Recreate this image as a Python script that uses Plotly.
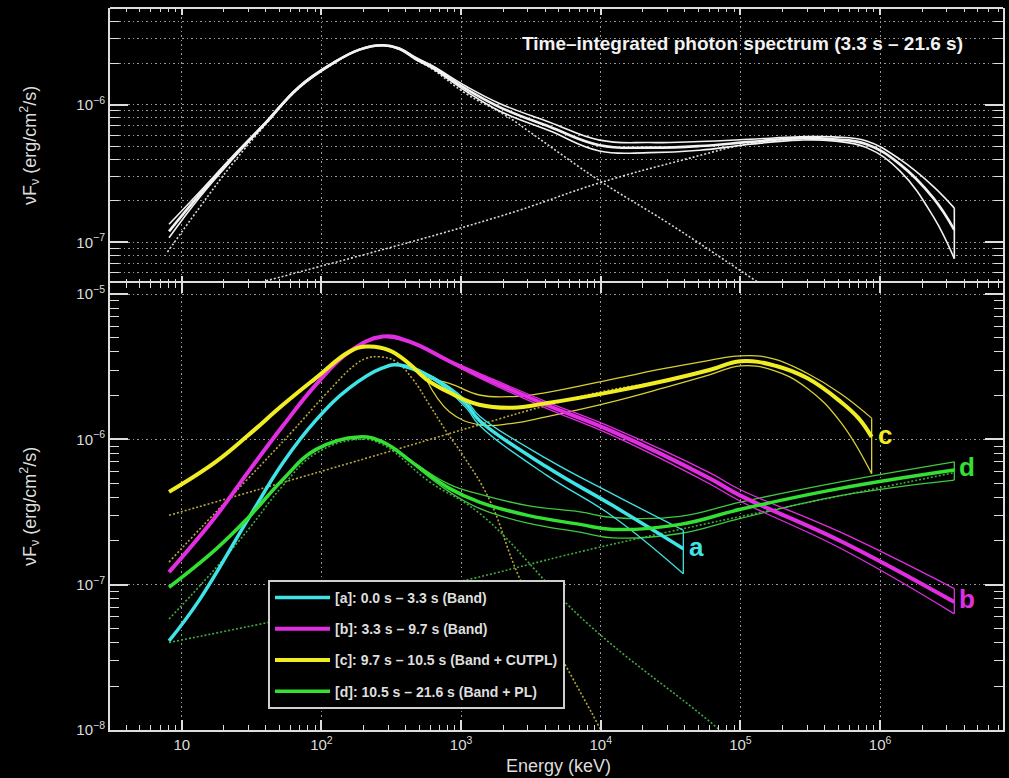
import plotly.graph_objects as go

# ---------------- data ----------------
# Top panel: time-integrated spectrum (3.3 s - 21.6 s)
top_E = [8.1, 13.3, 23, 40, 69, 120, 187, 274, 361, 475, 627, 1086, 1884, 4300, 9800,
         2.24e4, 5.1e4, 1.17e5, 2.67e5, 4.6e5, 8.0e5, 1.39e6, 2.4e6, 3.4e6]
top_mid = [1.2e-7, 2.2e-7, 4.1e-7, 7.4e-7, 1.34e-6, 1.99e-6, 2.51e-6, 2.7e-6, 2.55e-6, 2.16e-6,
           1.87e-6, 1.30e-6, 9.6e-7, 6.9e-7, 5.07e-7, 4.87e-7, 5.0e-7, 5.36e-7, 5.7e-7,
           5.6e-7, 5.15e-7, 3.68e-7, 2.1e-7, 1.23e-7]
top_up = [1.35e-7, 2.3e-7, 4.2e-7, 7.5e-7, 1.36e-6, 2.01e-6, 2.53e-6, 2.72e-6, 2.58e-6, 2.2e-6,
          1.91e-6, 1.36e-6, 1.02e-6, 7.45e-7, 5.52e-7, 5.3e-7, 5.4e-7, 5.6e-7, 5.83e-7,
          5.83e-7, 5.45e-7, 4.0e-7, 2.55e-7, 1.77e-7]
top_low = [1.08e-7, 2.1e-7, 4.0e-7, 7.3e-7, 1.32e-6, 1.97e-6, 2.49e-6, 2.68e-6, 2.52e-6, 2.12e-6,
           1.83e-6, 1.25e-6, 9.0e-7, 6.45e-7, 4.6e-7, 4.48e-7, 4.66e-7, 5.15e-7, 5.52e-7,
           5.45e-7, 4.87e-7, 3.29e-7, 1.54e-7, 7.6e-8]
top_band_E = [7.9, 13.3, 23, 40, 69, 120, 187, 274, 361, 475, 627, 1086, 2100, 3260, 9800,
              3.0e4, 1.27e5, 3.0e5]
top_band_V = [8.5e-8, 1.77e-7, 3.7e-7, 7.2e-7, 1.32e-6, 1.97e-6, 2.5e-6, 2.68e-6, 2.52e-6,
              2.12e-6, 1.8e-6, 1.2e-6, 8.3e-7, 6.1e-7, 2.8e-7, 1.39e-7, 5.3e-8, 3.0e-8]
top_pl_E = [20, 34, 1884, 9800, 4.0e4, 1.17e5, 2.5e5]
top_pl_V = [4.3e-8, 5.0e-8, 1.54e-7, 2.7e-7, 4.0e-7, 5.2e-7, 5.6e-7]

# [a] cyan, Band
a_E = [8.1, 13.3, 30, 53, 91, 158, 274, 361, 627, 1086, 1352, 4060, 1.22e4, 3.9e4]
a_mid = [4.1e-8, 7.8e-8, 2.85e-7, 6.9e-7, 1.35e-6, 2.25e-6, 3.1e-6, 3.25e-6, 2.64e-6, 1.75e-6,
         1.35e-6, 6.5e-7, 3.5e-7, 1.77e-7]
a_cE = [361, 627, 1086, 1352, 4060, 1.22e4, 3.9e4]
a_up = [3.3e-6, 2.7e-6, 1.85e-6, 1.45e-6, 7.4e-7, 4.2e-7, 2.37e-7]
a_low = [3.2e-6, 2.58e-6, 1.65e-6, 1.25e-6, 5.7e-7, 2.95e-7, 1.19e-7]

# [b] magenta, Band
b_E = [8.1, 17.5, 30, 53, 91, 158, 274, 427, 824, 1350, 4060, 1.22e4, 6.0e4, 1.0e5, 5.2e5, 3.4e6]
b_mid = [1.22e-7, 2.95e-7, 6.0e-7, 1.24e-6, 2.37e-6, 4.0e-6, 5.1e-6, 4.7e-6, 3.45e-6, 2.75e-6,
         1.73e-6, 1.13e-6, 5.4e-7, 4.1e-7, 2.0e-7, 7.6e-8]
b_cE = [274, 427, 824, 1350, 4060, 1.22e4, 6.0e4, 1.0e5, 5.2e5, 3.4e6]
b_up = [5.15e-6, 4.75e-6, 3.5e-6, 2.85e-6, 1.82e-6, 1.2e-6, 5.9e-7, 4.5e-7, 2.3e-7, 9.4e-8]
b_low = [5.05e-6, 4.65e-6, 3.4e-6, 2.65e-6, 1.64e-6, 1.06e-6, 4.95e-7, 3.75e-7, 1.78e-7, 6.3e-8]

# [c] yellow, Band + CUTPL
c_E = [8.1, 17.5, 30, 53, 91, 158, 208, 306, 427, 561, 824, 1350, 2340, 4060, 1.22e4, 3.0e4,
       6.0e4, 1.0e5, 1.8e5, 3.0e5, 5.2e5, 7.0e5, 8.7e5]
c_mid = [4.35e-7, 7.0e-7, 1.07e-6, 1.73e-6, 2.64e-6, 4.0e-6, 4.35e-6, 4.1e-6, 3.3e-6, 2.6e-6,
         2.1e-6, 1.73e-6, 1.65e-6, 1.77e-6, 2.13e-6, 2.55e-6, 3.0e-6, 3.45e-6, 3.2e-6, 2.64e-6,
         1.82e-6, 1.4e-6, 1.04e-6]
c_cE = [561, 824, 1350, 2340, 4060, 1.22e4, 3.0e4, 6.0e4, 1.0e5, 1.7e5, 3.0e5, 5.2e5, 8.7e5]
c_up = [2.64e-6, 2.43e-6, 2.02e-6, 1.97e-6, 2.1e-6, 2.6e-6, 3.1e-6, 3.5e-6, 3.76e-6, 3.6e-6,
        2.85e-6, 2.07e-6, 1.40e-6]
c_low = [2.6e-6, 1.55e-6, 1.26e-6, 1.29e-6, 1.43e-6, 1.82e-6, 2.3e-6, 2.78e-6, 3.2e-6, 3.0e-6,
         2.25e-6, 1.32e-6, 5.8e-7]
c_band_E = [8.1, 15, 30, 60, 110, 170, 208, 260, 342, 450, 593, 800, 1027, 1585, 2600, 5000,
            1.0e4, 1.5e4]
c_band_V = [1.43e-7, 2.7e-7, 5.4e-7, 1.1e-6, 2.1e-6, 3.2e-6, 3.6e-6, 3.7e-6, 3.43e-6, 2.6e-6,
            1.73e-6, 1.1e-6, 7.8e-7, 3.9e-7, 1.13e-7, 3.4e-8, 1.0e-8, 4.5e-9]
c_cpl_E = [8.1, 274, 1350, 4000, 1.2e4, 3.0e4]
c_cpl_V = [3.0e-7, 8.0e-7, 1.26e-6, 1.7e-6, 2.2e-6, 2.5e-6]

# [d] green, Band + PL
d_E = [8.1, 17.5, 30, 53, 91, 186, 274, 475, 824, 1352, 3000, 7100, 1.22e4, 3.7e4, 1.0e5,
       5.2e5, 3.4e6]
d_mid = [9.6e-8, 1.75e-7, 2.9e-7, 5.3e-7, 8.5e-7, 1.04e-6, 9.6e-7, 6.65e-7, 4.6e-7, 3.7e-7,
         3.0e-7, 2.6e-7, 2.4e-7, 2.6e-7, 3.3e-7, 4.6e-7, 6.15e-7]
d_cE = [475, 824, 1352, 3000, 7100, 1.22e4, 3.7e4, 1.0e5, 5.2e5, 3.4e6]
d_up = [6.8e-7, 4.9e-7, 4.2e-7, 3.5e-7, 3.17e-7, 2.9e-7, 2.95e-7, 3.7e-7, 5.1e-7, 7.0e-7]
d_low = [6.5e-7, 4.35e-7, 3.35e-7, 2.65e-7, 2.3e-7, 2.1e-7, 2.25e-7, 2.86e-7, 4.1e-7, 5.25e-7]
d_band_E = [8.1, 17.5, 30, 53, 91, 186, 274, 594, 1352, 7870, 7.1e4, 2.0e5]
d_band_V = [5.8e-8, 1.3e-7, 2.4e-7, 4.8e-7, 8.0e-7, 1.0e-6, 9.2e-7, 5.1e-7, 3.1e-7, 5.5e-8,
            1.0e-8, 4.0e-9]
d_pl_E = [8.1, 779, 1.22e4, 3.4e6]
d_pl_V = [4.0e-8, 1.0e-7, 1.9e-7, 5.9e-7]

legend_names = ["[a]: 0.0 s \u2013 3.3 s (Band)", "[b]: 3.3 s \u2013 9.7 s (Band)",
                "[c]: 9.7 s \u2013 10.5 s (Band + CUTPL)", "[d]: 10.5 s \u2013 21.6 s (Band + PL)"]
letters = ["a", "b", "c", "d"]

x_tick_vals = [10, 100, 1e3, 1e4, 1e5, 1e6]
x_tick_text = ["10", "10<sup>2</sup>", "10<sup>3</sup>", "10<sup>4</sup>", "10<sup>5</sup>",
               "10<sup>6</sup>"]
y_top_vals = [1e-7, 1e-6]
y_top_text = ["10<sup>\u22127</sup>", "10<sup>\u22126</sup>"]
y_bot_vals = [1e-8, 1e-7, 1e-6, 1e-5]
y_bot_text = ["10<sup>\u22128</sup>", "10<sup>\u22127</sup>", "10<sup>\u22126</sup>",
              "10<sup>\u22125</sup>"]

# ---------------- styling ----------------
CYAN = "#3ee4e6"
MAG = "#e02ee0"
YEL = "#f0ee22"
YEL_T = "#d6d034"
GRN = "#33e033"
GRN_T = "#40c840"
YEL_D = "#b8a63c"
GRN_D = "#42a842"
WHT = "#f2f2f2"
AX = "#dddddd"
GRID = "#9a9a9a"
FONT = "Liberation Sans, Arial, sans-serif"
DOTS = "2px,2px"
GDASH = "1.5px,3px"

fig = go.Figure()


def line(E, V, color, width, ax, dash=None, name=None, showlegend=False, shape="spline",
         group=None):
    fig.add_trace(go.Scatter(
        x=E, y=V, mode="lines", xaxis="x" if ax == 1 else "x2", yaxis="y" if ax == 1 else "y2",
        line=dict(color=color, width=width, dash=dash, shape=shape, smoothing=1.2),
        name=name, showlegend=showlegend, legendgroup=group, hoverinfo="skip"))


def contour(Ec, up, low, color, width, ax):
    line(Ec, up, color, width, ax)
    line(Ec, low, color, width, ax)
    line([Ec[-1], Ec[-1]], [up[-1], low[-1]], color, width, ax, shape="linear")


# top panel
line(top_band_E, top_band_V, "#d8d8d8", 1.6, 1, dash=DOTS)
line(top_pl_E, top_pl_V, "#d8d8d8", 1.6, 1, dash=DOTS)
contour(top_E, top_up, top_low, WHT, 1.6, 1)
line(top_E, top_mid, WHT, 2.6, 1)

# bottom panel: dotted components
line(c_band_E, c_band_V, YEL_D, 1.6, 2, dash=DOTS)
line(c_cpl_E, c_cpl_V, YEL_D, 1.6, 2, dash=DOTS)
line(d_band_E, d_band_V, GRN_D, 1.6, 2, dash=DOTS)
line(d_pl_E, d_pl_V, GRN_D, 1.6, 2, dash=DOTS)

# spectra
contour(d_cE, d_up, d_low, GRN_T, 1.3, 2)
contour(c_cE, c_up, c_low, YEL_T, 1.3, 2)
contour(a_cE, a_up, a_low, CYAN, 1.3, 2)
contour(b_cE, b_up, b_low, MAG, 1.3, 2)
line(a_E, a_mid, CYAN, 3.5, 2, name=legend_names[0], showlegend=True, group="a")
line(b_E, b_mid, MAG, 4, 2, name=legend_names[1], showlegend=True, group="b")
line(c_E, c_mid, YEL, 4, 2, name=legend_names[2], showlegend=True, group="c")
line(d_E, d_mid, GRN, 3.5, 2, name=legend_names[3], showlegend=True, group="d")

# ---------------- axes ----------------
W, H = 1009, 778
L, R, T, B = 110, 6, 8, 48
plot_h = H - T - B
split = (plot_h - 275) / plot_h


def minor_vals(e0, e1):
    return [m * 10.0 ** e for e in range(e0, e1) for m in range(2, 10)]


xcommon = dict(type="log", range=[0.486, 6.88], linecolor=AX, linewidth=2,
               mirror="allticks", ticks="inside", tickcolor=AX, tickwidth=1.5,
               tickmode="array", tickvals=x_tick_vals, showgrid=True, gridcolor=GRID,
               griddash=GDASH, gridwidth=1, zeroline=False, automargin=False)

fig.update_layout(
    width=W, height=H, margin=dict(l=L, r=R, t=T, b=B),
    paper_bgcolor="black", plot_bgcolor="black",
    font=dict(family=FONT, color=AX, size=15),
    xaxis=dict(**xcommon, showline=False, domain=[0, 1], anchor="y", showticklabels=False,
               ticklen=7,
               minor=dict(tickvals=minor_vals(0, 7), ticks="inside", ticklen=4,
                          tickcolor=AX, tickwidth=1.2, showgrid=False)),
    xaxis2=dict(**xcommon, showline=True, domain=[0, 1], anchor="y2", matches="x",
                ticktext=x_tick_text, ticklen=10, tickfont=dict(size=15, color=AX),
                minor=dict(tickvals=minor_vals(0, 7), ticks="inside", ticklen=5,
                           tickcolor=AX, tickwidth=1.2, showgrid=False)),
    yaxis=dict(type="log", range=[-7.296, -5.298], domain=[split, 1], anchor="x",
               showline=True, linecolor=AX, linewidth=2, mirror="allticks", ticks="inside",
               ticklen=18, tickcolor=AX, tickwidth=1.5, tickmode="array",
               tickvals=y_top_vals, ticktext=y_top_text, tickfont=dict(size=15, color=AX),
               showgrid=True, gridcolor=GRID, griddash=GDASH, gridwidth=1, zeroline=False,
               automargin=False,
               minor=dict(tickvals=minor_vals(-8, -5), ticks="inside", ticklen=9,
                          tickcolor=AX, tickwidth=1.2, showgrid=True, gridcolor=GRID,
                          griddash=GDASH, gridwidth=1)),
    yaxis2=dict(type="log", range=[-8, -4.924], domain=[0, split], anchor="x2",
                showline=True, linecolor=AX, linewidth=2, mirror="allticks", ticks="inside",
                ticklen=18, tickcolor=AX, tickwidth=1.5, tickmode="array",
                tickvals=y_bot_vals, ticktext=y_bot_text, tickfont=dict(size=15, color=AX),
                showgrid=True, gridcolor=GRID, griddash=GDASH, gridwidth=1, zeroline=False,
                automargin=False,
                minor=dict(tickvals=minor_vals(-8, -5), ticks="inside", ticklen=9,
                           tickcolor=AX, tickwidth=1.2, showgrid=False)),
    legend=dict(x=(268 - L) / (W - L - R), y=(H - B - 580) / plot_h, xanchor="left",
                yanchor="top", bgcolor="black", bordercolor="#cfcfcf", borderwidth=2,
                font=dict(family=FONT, size=14, color="#dedede", weight="bold"),
                tracegroupgap=10, itemwidth=55, traceorder="grouped"),
    showlegend=True,
    # top border of the upper panel (its x axis line is hidden to avoid a doubled border)
    shapes=[dict(type="line", xref="paper", yref="paper", x0=0, x1=1, y0=1, y1=1,
                 line=dict(color=AX, width=2))],
)


def px2paper_x(px):
    return (px - L) / (W - L - R)


def px2paper_y(py):
    return (H - B - py) / plot_h


ann = [
    dict(text="<b>Time\u2013integrated photon spectrum (3.3 s \u2013 21.6 s)</b>",
         x=px2paper_x(742), y=px2paper_y(44), xref="paper", yref="paper", showarrow=False,
         font=dict(size=19, color=WHT, family=FONT), xanchor="center", yanchor="middle"),
    dict(text="\u03bdF<sub>\u03bd</sub> (erg/cm<sup>2</sup>/s)", x=px2paper_x(30),
         y=px2paper_y(146), xref="paper", yref="paper", showarrow=False, textangle=-90,
         font=dict(size=18, color=AX, family=FONT), xanchor="center", yanchor="middle"),
    dict(text="\u03bdF<sub>\u03bd</sub> (erg/cm<sup>2</sup>/s)", x=px2paper_x(30),
         y=px2paper_y(507), xref="paper", yref="paper", showarrow=False, textangle=-90,
         font=dict(size=18, color=AX, family=FONT), xanchor="center", yanchor="middle"),
    dict(text="Energy (keV)", x=px2paper_x(558), y=px2paper_y(766), xref="paper",
         yref="paper", showarrow=False, font=dict(size=18, color=AX, family=FONT),
         xanchor="center", yanchor="middle"),
]
letter_pos = [(4.685, -6.74, CYAN), (6.62, -7.097, MAG), (6.034, -5.97, YEL), (6.62, -6.188, GRN)]
for t, (lx, ly, col) in zip(letters, letter_pos):
    ann.append(dict(text="<b>%s</b>" % t, x=lx, y=ly, xref="x2", yref="y2", showarrow=False,
                    font=dict(size=26, color=col, family=FONT), xanchor="center",
                    yanchor="middle"))
fig.update_layout(annotations=ann)

fig.write_html("out.html")
